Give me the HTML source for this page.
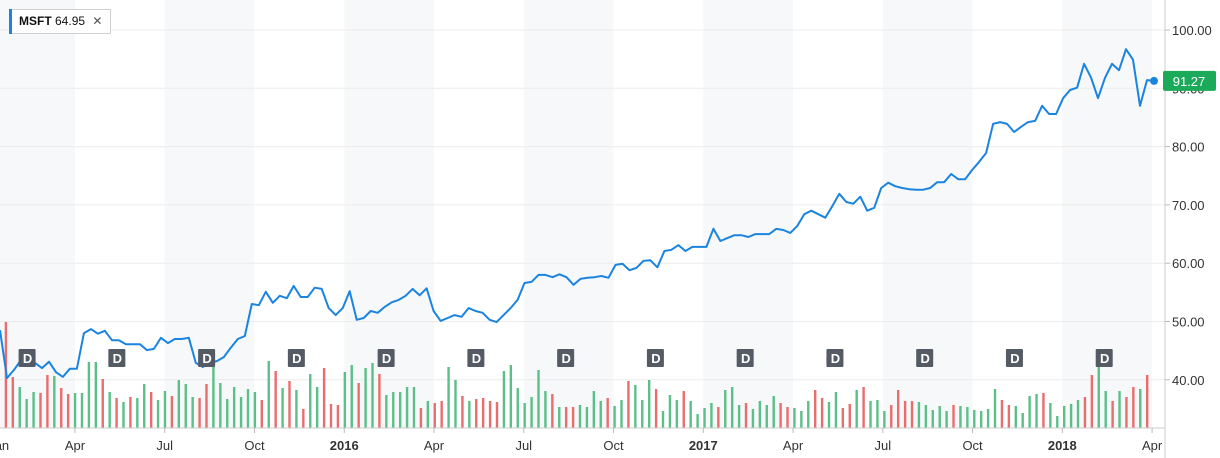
<!DOCTYPE html>
<html><head><meta charset="utf-8"><style>
body{margin:0;background:#fff;font-family:"Liberation Sans",sans-serif;}
#wrap{position:relative;width:1220px;height:458px;overflow:hidden;}
#legend{position:absolute;left:9px;top:9px;height:23px;padding:0 8px 0 9px;border:1px solid #d0d0d0;background:#fff;font-size:12px;line-height:23px;color:#111;}
#legend:before{content:"";position:absolute;left:-1px;top:-1px;bottom:-1px;width:3px;background:#1a84e0;}
</style></head><body>
<div id="wrap">
<svg id="svg" width="1220" height="458"></svg>
<div id="legend"><b style="font-weight:600">MSFT</b> 64.95 <span style="color:#555;margin-left:4px">✕</span></div>
</div>
<script>
const prices=[48.5,40.3,41.7,43.4,43.9,42.9,42.0,43.1,41.3,40.5,41.9,41.9,48.0,48.7,47.9,48.4,46.8,46.8,46.1,46.1,46.1,45.1,45.3,47.2,46.3,47.0,47.0,47.2,42.9,42.2,42.9,43.2,43.9,45.5,47.0,47.5,53.0,52.8,55.1,53.2,54.4,54.0,56.1,54.2,54.2,55.8,55.6,52.3,51.1,52.3,55.2,50.3,50.6,51.8,51.5,52.5,53.3,53.7,54.4,55.6,54.5,55.7,51.8,50.1,50.6,51.1,50.8,52.3,51.8,51.5,50.3,49.9,51.1,52.3,53.7,56.6,56.8,58.0,58.0,57.6,58.1,57.6,56.3,57.3,57.5,57.6,57.8,57.5,59.7,59.9,58.8,59.2,60.4,60.5,59.3,62.1,62.3,63.1,62.1,62.8,62.8,62.8,65.9,63.8,64.3,64.8,64.8,64.5,65.0,65.0,65.0,65.9,65.7,65.2,66.4,68.4,69.0,68.4,67.8,69.8,71.9,70.5,70.2,71.4,69.0,69.5,72.9,73.8,73.2,72.9,72.7,72.6,72.6,72.9,73.9,73.9,75.3,74.4,74.4,76.0,77.4,78.9,83.9,84.2,83.9,82.5,83.4,84.2,84.4,87.0,85.6,85.6,88.3,89.7,90.1,94.2,91.8,88.3,91.8,94.2,93.1,96.7,94.9,87.0,91.4,91.27];
const volumes=[106,51,41,29,36,35,53,52,40,34,35,35,66,66,49,36,30,26,31,30,44,36,28,37,32,48,44,31,30,44,66,45,29,41,31,39,36,28,67,57,40,47,38,19,54,41,60,24,23,56,63,45,60,65,54,33,36,
36,41,41,20,27,25,27,61,48,32,27,29,30,27,26,57,63,40,25,31,58,37,34,21,21,21,23,21,37,27,30,22,28,47,43,28,48,39,17,33,28,37,27,14,20,25,21,38,41,23,25,19,27,23,32,25,21,20,
17,27,38,30,26,36,20,24,38,41,27,28,17,23,38,27,27,26,23,18,22,17,23,22,21,18,17,19,39,28,23,22,15,32,34,35,25,12,22,24,28,31,53,64,37,27,37,31,41,39,53];
const yTicks=[100,90,80,70,60,50,40];
const xLabels=["Jan","Apr","Jul","Oct","2016","Apr","Jul","Oct","2017","Apr","Jul","Oct","2018","Apr"];
const xLabelPos=[0.45,3,6,9,12,15,18,21,24,27,30,33,36,39]; // months since Jan 2015
const divMonths=[1.4,4.4,7.4,10.4,13.4,16.4,19.4,22.4,25.4,28.4,31.4,34.4,37.4];
const lastPrice=91.27;

const NS="http://www.w3.org/2000/svg",svg=document.getElementById('svg');
const PR=1165,BASE=428;
const y=v=>30+(100-v)*5.83;
const xi=i=>i*(1154/(prices.length-1));
const xm=m=>-14.8+m*29.92;
const xv=i=>5.7+i*(1141.3/(volumes.length-1));
function mk(t,a,p){const e=document.createElementNS(NS,t);for(const k in a)e.setAttribute(k,a[k]);(p||svg).appendChild(e);return e;}
for(let q=0;q<13;q+=2){const b=mk('rect',{x:xm(q*3),y:0,width:xm(3)-xm(0),height:BASE,fill:'#f7f8f9'});

}
yTicks.forEach(t=>{const g=mk('line',{x1:0,x2:PR,y1:y(t),y2:y(t),stroke:'#ececec'});


mk('line',{x1:PR,x2:PR+5,y1:y(t),y2:y(t),stroke:'#bbb'});
const l=mk('text',{x:1172,y:y(t)+5,'font-size':13,fill:'#333'});l.textContent=t.toFixed(2);

});
volumes.forEach((v,i)=>{const pi=Math.min(prices.length-1,Math.round(i*(prices.length-1)/(volumes.length-1)));
const up=pi==0?false:prices[pi]>=prices[pi-1];
const r=mk('rect',{x:xv(i)-1,y:BASE-v,width:2.4,height:v,fill:up?'#5cbf8a':'#ea6d6d'});

});
mk('line',{x1:PR,x2:PR,y1:0,y2:458,stroke:'#ccc'});
mk('line',{x1:0,x2:PR,y1:BASE,y2:BASE,stroke:'#ccc'});
xLabels.forEach((s,k)=>{const X=xm(xLabelPos[k]);mk('line',{x1:X,x2:X,y1:BASE,y2:BASE+5,stroke:'#bbb'});
const t=mk('text',{x:X,y:450,'font-size':13,fill:'#333','text-anchor':'middle','font-weight':s.length==4?'bold':'normal'});t.textContent=s;

});
const pl=mk('polyline',{points:prices.map((p,i)=>xi(i).toFixed(1)+','+y(p).toFixed(1)).join(' '),fill:'none',stroke:'#1a84e0','stroke-width':2,'stroke-linejoin':'round'});


divMonths.forEach(m=>{const g=mk('g',{});


const X=xm(m);mk('rect',{x:X-8.5,y:349,width:17,height:18,rx:1,fill:'#545b64'},g);
const t=mk('text',{x:X+0.5,y:363,'font-size':13,'font-weight':'bold',fill:'#fff','text-anchor':'middle'},g);t.textContent='D';});
const dt=mk('circle',{cx:xi(prices.length-1),cy:y(lastPrice),r:4,fill:'#1a84e0'});


mk('rect',{x:1163,y:y(lastPrice)-10,width:53,height:20,rx:2,fill:'#1aaa5a'});
const lp=mk('text',{x:1189,y:y(lastPrice)+5,'font-size':13,fill:'#fff','text-anchor':'middle'});lp.textContent=lastPrice.toFixed(2);


</script>
</body></html>
